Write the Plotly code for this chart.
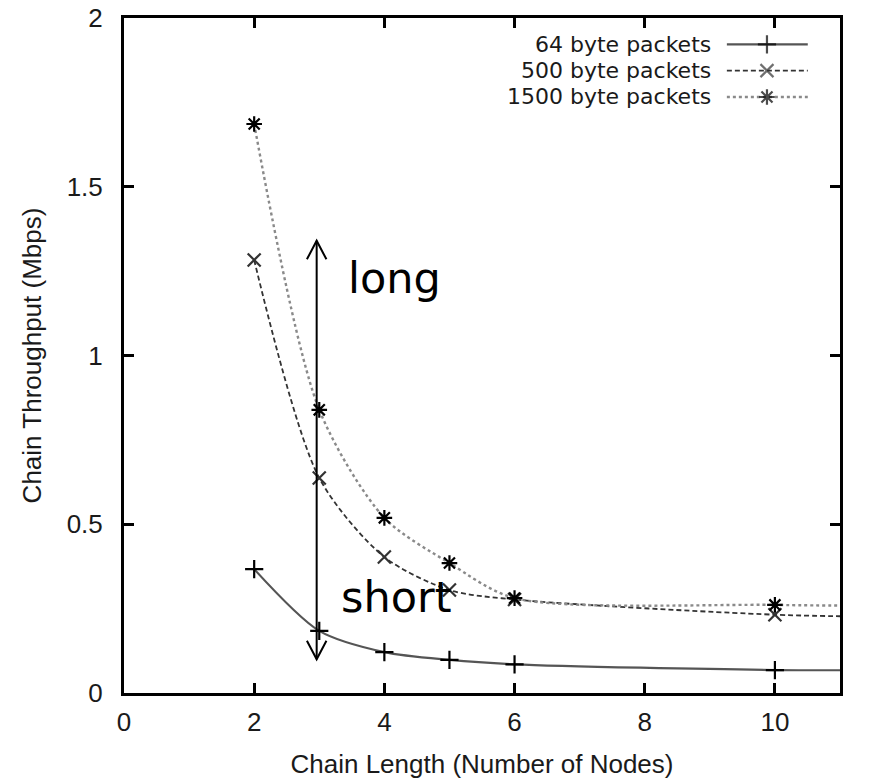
import plotly.graph_objects as go

# ---- data ----
chain_len = [2, 3, 4, 5, 6, 10, 12]
thr_64 = [0.367, 0.184, 0.121, 0.098, 0.085, 0.068, 0.068]
thr_500 = [1.283, 0.637, 0.403, 0.305, 0.277, 0.232, 0.225]
thr_1500 = [1.686, 0.839, 0.519, 0.385, 0.281, 0.261, 0.258]
series_names = ["64 byte packets", "500 byte packets", "1500 byte packets"]
x_ticks = [0, 2, 4, 6, 8, 10]
y_ticks = [0, 0.5, 1, 1.5, 2]
y_tick_text = ["0", "0.5", "1", "1.5", "2"]

# ---- styles ----
styles = [
    dict(color="#555555", dash="solid", width=2.2, symbol="cross-thin", mcolor="#000000"),
    dict(color="#333333", dash="5px,3px", width=1.8, symbol="x-thin", mcolor="#333333"),
    dict(color="#8a8a8a", dash="dot", width=2.4, symbol="asterisk", mcolor="#000000"),
]
series = [thr_64, thr_500, thr_1500]

fig = go.Figure()
for name, ys, st in zip(series_names, series, styles):
    fig.add_trace(go.Scatter(
        x=chain_len, y=ys, name=name, mode="lines+markers",
        line=dict(color=st["color"], dash=st["dash"], width=st["width"], shape="spline", smoothing=0.8),
        marker=dict(symbol=st["symbol"], size=13, color=st["mcolor"],
                    line=dict(width=2.2, color=st["mcolor"])),
        showlegend=False, cliponaxis=True, xaxis="x", yaxis="y",
    ))

# ---- manual legend (text left of key, gnuplot style) ----
leg_rows_y = [0.961, 0.922, 0.883]     # paper coords of rows
key_x0, key_xm, key_x1 = 0.842, 0.898, 0.955
leg_font = dict(family="DejaVu Sans, Liberation Sans", size=22, color="#1a1a1a")
for name, yrow, st in zip(series_names, leg_rows_y, styles):
    fig.add_trace(go.Scatter(
        x=[key_x0, key_xm, key_x1], y=[yrow, yrow, yrow], mode="lines+markers",
        line=dict(color=st["color"], dash=st["dash"], width=st["width"]),
        marker=dict(symbol=st["symbol"], size=[0, 13, 0], color=st["mcolor"],
                    line=dict(width=2.2, color=st["mcolor"])),
        showlegend=False, hoverinfo="skip", xaxis="x2", yaxis="y2",
    ))
    fig.add_annotation(x=0.822, y=yrow, xref="x2", yref="y2", text=name,
                       showarrow=False, xanchor="right", yanchor="middle", font=leg_font)

# ---- double-headed arrow with "long"/"short" ----
ax_x = 2.96
y_lo, y_hi = 0.10, 1.34
fig.add_shape(type="line", x0=ax_x, x1=ax_x, y0=y_lo, y1=y_hi, xref="x", yref="y",
              line=dict(color="black", width=2))
hw, hh = 0.15, 0.055
fig.add_shape(type="path", xref="x", yref="y",
              path=f"M {ax_x-hw},{y_hi-hh} L {ax_x},{y_hi} L {ax_x+hw},{y_hi-hh}",
              line=dict(color="black", width=2))
fig.add_shape(type="path", xref="x", yref="y",
              path=f"M {ax_x-hw},{y_lo+hh} L {ax_x},{y_lo} L {ax_x+hw},{y_lo+hh}",
              line=dict(color="black", width=2))
note_font = dict(family="Comic Sans MS, DejaVu Sans", size=43, color="black")
fig.add_annotation(x=4.15, y=1.23, text="long", showarrow=False, font=note_font)
fig.add_annotation(x=4.18, y=0.284, text="short", showarrow=False, font=note_font)

axis_font = dict(family="Liberation Sans, Arial", size=26, color="#1a1a1a")
common = dict(ticks="inside", ticklen=10, tickwidth=3, tickcolor="black", showline=True,
              linecolor="black", linewidth=3, mirror="ticks", showgrid=False, zeroline=False,
              tickfont=axis_font, automargin=False)
fig.update_layout(
    width=891, height=779,
    margin=dict(l=124, r=51, t=18, b=86),
    paper_bgcolor="white", plot_bgcolor="white",
    xaxis=dict(range=[0, 11], tickvals=x_ticks, ticklabelstandoff=4,
               title=dict(text="Chain Length (Number of Nodes)", font=axis_font, standoff=20),
               **common),
    yaxis=dict(range=[0, 2], tickvals=y_ticks, ticktext=y_tick_text, ticklabelstandoff=13,
               title=dict(text="Chain Throughput (Mbps)", font=axis_font, standoff=18),
               **common),
    xaxis2=dict(range=[0, 1], overlaying="x", visible=False, fixedrange=True),
    yaxis2=dict(range=[0, 1], overlaying="y", visible=False, fixedrange=True),
)

fig.write_html("out.html")
